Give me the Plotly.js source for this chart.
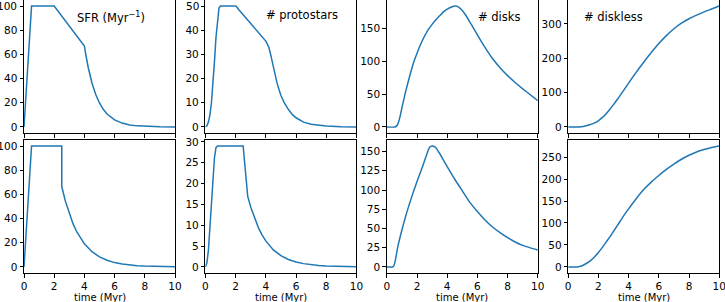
<!DOCTYPE html>
<html><head><meta charset="utf-8">
<script src="https://cdn.plot.ly/plotly-3.0.1.min.js"></script>
<style>
html,body{margin:0;padding:0;background:#fff;width:725px;height:302px;overflow:hidden;position:relative}
#chart{position:absolute;left:0;top:-8px;width:735px;height:310px}
</style>
</head><body><div id="chart"></div>
<script>
// ---- data (time in Myr) ----
const tSfrTop = [0, 0.5, 2.0, 4.0, 4.1, 4.25, 4.5, 4.75, 5.0, 5.25, 5.5, 5.75, 6.0, 6.5, 7.0, 7.5, 8.0, 9.0, 10.0];
const sfrTop  = [0, 100, 100, 67, 59.3, 49.4, 36.4, 26.8, 19.8, 14.6, 10.7, 7.9, 5.8, 3.2, 1.7, 0.9, 0.5, 0.15, 0.05];

const tProtoTop = [0,0.1,0.2,0.3,0.4,0.5,0.6,0.7,0.8,0.9,1.0,2.0,2.1,2.2,4.0,4.1,4.2,4.3,4.4,4.5,4.75,5.0,5.25,5.5,5.75,6.0,6.5,7.0,7.5,8.0,9.0,10.0];
const protoTop  = [0,0.5,2,5,10,17,27,37,45,49.2,50,50,49.5,48.6,35.5,34.5,33,30.5,27.8,25,18,13,9.7,7.2,5.2,3.8,2.0,1.1,0.6,0.35,0.1,0.03];

const tDiskTop = [0,0.55,0.7,0.8,0.9,1.0,1.25,1.5,1.75,2.0,2.25,2.5,2.75,3.0,3.25,3.5,3.75,4.0,4.25,4.5,4.6,4.75,5.0,5.25,5.5,5.75,6.0,6.5,7.0,7.5,8.0,8.5,9.0,9.5,10.0];
const diskTop  = [0,0,3,9,18,29,54,76,96,112,126,138,148,156,163,169,175,179,182,183.7,183.8,182,177,169,159.5,150,140,121,104,90,78,67.5,58,49,40];

const tDisklessTop = [0,0.7,1.0,1.25,1.5,1.75,2.0,2.25,2.5,2.75,3.0,3.25,3.5,3.75,4.0,4.25,4.5,4.75,5.0,5.25,5.5,5.75,6.0,6.5,7.0,7.5,8.0,8.5,9.0,9.5,10.0];
const disklessTop  = [0,0,1.5,4,7.5,12,18,27,38,51,65,80,95.5,111.5,127.5,143.5,159,174,188.5,203,217,230,243,266,286,302,315,325.5,335,343.5,352];

const tSfrBot = [0, 0.5, 2.5, 2.5, 2.75, 3.0, 3.25, 3.5, 3.75, 4.0, 4.5, 5.0, 5.5, 6.0, 6.5, 7.0, 7.5, 8.0, 9.0, 10.0];
const sfrBot  = [0, 100, 100, 66.5, 54.0, 43.8, 35.6, 28.9, 23.5, 19.1, 12.6, 8.3, 5.5, 3.6, 2.4, 1.6, 1.0, 0.7, 0.3, 0.1];

const tProtoBot = [0,0.1,0.2,0.3,0.4,0.5,0.6,0.7,0.8,2.5,2.6,2.7,2.8,3.0,3.25,3.5,3.75,4.0,4.5,5.0,5.5,6.0,6.5,7.0,7.5,8.0,9.0,10.0];
const protoBot  = [0,1,4,9.5,15.5,21.5,26.2,28.6,29,29,24.5,20.3,17.0,14.4,11.7,9.5,7.7,6.25,4.1,2.7,1.8,1.2,0.8,0.5,0.33,0.2,0.09,0.04];

const tDiskBot = [0,0.35,0.45,0.55,0.66,0.75,1.0,1.25,1.5,1.75,2.0,2.25,2.5,2.75,2.85,3.0,3.1,3.25,3.5,3.75,4.0,4.5,5.0,5.5,6.0,6.5,7.0,7.5,8.0,8.5,9.0,9.5,10.0];
const diskBot  = [0,0,1,7,19,28,48,66,82,97,111,124,138,152,156,157.2,157,155,147.5,139,130.5,114,99,84,72,61,52,44.5,38,32.5,28,24.8,22];

const tDisklessBot = [0,0.55,0.75,1.0,1.25,1.5,1.75,2.0,2.25,2.5,2.75,3.0,3.25,3.5,3.75,4.0,4.5,5.0,5.5,6.0,6.5,7.0,7.5,8.0,8.5,9.0,9.5,10.0];
const disklessBot  = [0,0,1,4,9,15,23,33,44,56,68,81,94,107,120,132,155,176,193,208,222,234,245,254,261.5,267,271.5,275];

const panelLabels = ["SFR (Myr<sup>\u22121</sup>)", "# protostars", "# disks", "# diskless"];
const xTickVals = [0, 2, 4, 6, 8, 10];
const yDticks = [20, 10, 50, 100, 20, 5, 25, 50];
const xTitleText = "time (Myr)";

// ---- layout (plot area = visible 725x302 window; extra hidden margin so edge labels are kept) ----
const W = 725, H = 302, PAD_T = 8, PAD_R = 10;
const colLeft = [24, 205.4, 386.8, 568.2], colW = 151;
const rowTop = [0, 140], rowH = 133;
const labelPos = [[110.5, 17.3], [301.7, 15.5], [498.8, 16.7], [613, 17.3]];

const series = [
  [tSfrTop, sfrTop], [tProtoTop, protoTop], [tDiskTop, diskTop], [tDisklessTop, disklessTop],
  [tSfrBot, sfrBot], [tProtoBot, protoBot], [tDiskBot, diskBot], [tDisklessBot, disklessBot]
];
const smoothPanel = [false, false, true, true, false, false, true, true];

const fam = 'DejaVu Sans, sans-serif';
const font = {family: fam, size: 10.5, color: '#000'};
const axisBase = {
  showline: true, linecolor: '#000', linewidth: 1, mirror: true,
  ticks: 'outside', ticklen: 3.5, tickwidth: 1, tickcolor: '#000',
  showgrid: false, zeroline: false, automargin: false, fixedrange: true,
  ticklabeloverflow: 'allow', tickfont: font
};

const data = [];
const layout = {
  width: W + PAD_R, height: H + PAD_T,
  margin: {l: 0, r: PAD_R, t: PAD_T, b: 0},
  paper_bgcolor: '#fff', plot_bgcolor: '#fff',
  showlegend: false,
  font: font,
  annotations: []
};

series.forEach((s, i) => {
  const n = i + 1;
  const row = Math.floor(i / 4), col = i % 4;
  const xs = n === 1 ? '' : String(n);
  data.push({
    x: s[0], y: s[1], type: 'scatter', mode: 'lines',
    line: smoothPanel[i] ? {color: '#1f77b4', width: 1.5, shape: 'spline', smoothing: 0.5}
                         : {color: '#1f77b4', width: 1.5},
    xaxis: 'x' + xs, yaxis: 'y' + xs, hoverinfo: 'skip'
  });
  const m = Math.max(...s[1]);
  const top = 1.05 * m;
  const rangePx = rowH / (1.1 * m);          // pixels per unit
  const vals = [], texts = [];
  for (let v = 0; v <= top + 1e-9; v += yDticks[i]) {
    vals.push(v);
    // a label that sits within 8 px of the figure's top edge is written as an annotation instead
    const pxFromTop = rowTop[row] + (top - v) * rangePx;
    if (pxFromTop < 8) {
      texts.push(' ');
      layout.annotations.push({
        text: String(v), xref: 'paper', yref: 'y' + xs,
        x: (colLeft[col] - 5.6) / W, y: v,
        xanchor: 'right', yanchor: 'middle', showarrow: false, borderpad: 0,
        font: font
      });
    } else {
      texts.push(String(v));
    }
  }
  const x0 = colLeft[col] / W, x1 = (colLeft[col] + colW) / W;
  const y1 = (H - rowTop[row]) / H, y0 = (H - rowTop[row] - rowH) / H;
  layout['xaxis' + xs] = Object.assign({}, axisBase, {
    domain: [x0, x1], anchor: 'y' + xs, range: [0, 10],
    tickmode: 'array', tickvals: xTickVals, ticktext: xTickVals.map(String),
    showticklabels: row === 1
  });
  layout['yaxis' + xs] = Object.assign({}, axisBase, {
    domain: [y0, y1], anchor: 'x' + xs, range: [-0.05 * m, top],
    tickmode: 'array', tickvals: vals, ticktext: texts
  });
  if (row === 0) {
    layout.annotations.push({
      text: panelLabels[col], xref: 'paper', yref: 'paper',
      x: labelPos[col][0] / W, y: 1 - labelPos[col][1] / H,
      xanchor: 'center', yanchor: 'middle', showarrow: false,
      font: {family: fam, size: 11.5, color: '#000'}
    });
  } else {
    layout.annotations.push({
      text: xTitleText, xref: 'paper', yref: 'paper',
      x: (colLeft[col] + colW / 2) / W, y: 1 - 297 / H,
      xanchor: 'center', yanchor: 'middle', showarrow: false, borderpad: 0,
      font: {family: fam, size: 10, color: '#000'}
    });
  }
});

Plotly.newPlot('chart', data, layout, {staticPlot: true, displayModeBar: false});
</script>
</body></html>
